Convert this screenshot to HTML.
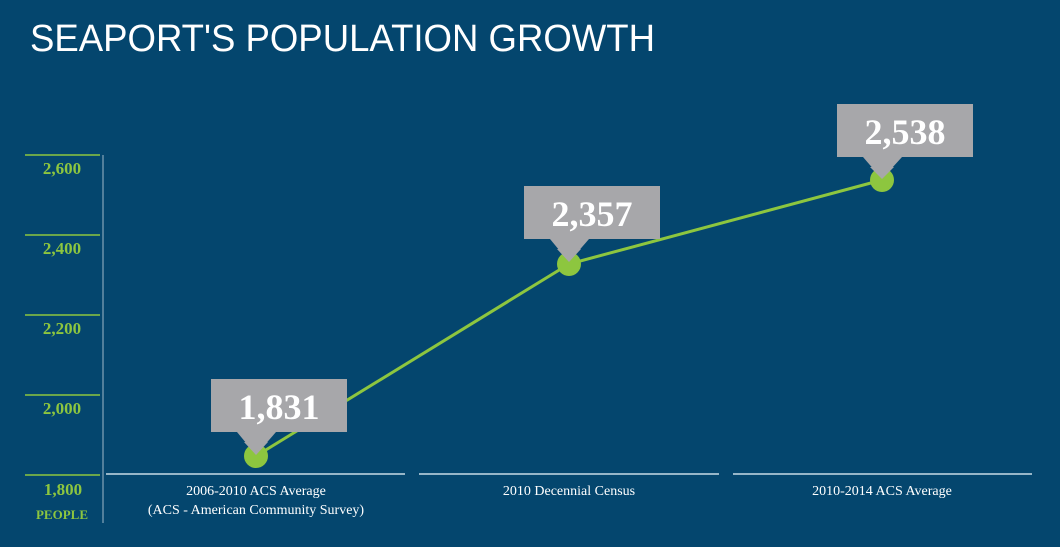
<!DOCTYPE html>
<html><head><meta charset="utf-8"><style>
html,body{margin:0;padding:0;background:#04466e;}
svg{display:block}
</style></head><body>
<svg width="1060" height="547" viewBox="0 0 1060 547" xmlns="http://www.w3.org/2000/svg">
<rect width="1060" height="547" fill="#04466e"/>
<text x="30" y="51" font-family="Liberation Sans, sans-serif" font-size="38" fill="#fff" textLength="625" lengthAdjust="spacingAndGlyphs">SEAPORT'S POPULATION GROWTH</text>
<g stroke="#8dc63f" stroke-width="1.5">
<line x1="25" y1="155" x2="100" y2="155"/>
<line x1="25" y1="235" x2="100" y2="235"/>
<line x1="25" y1="315" x2="100" y2="315"/>
<line x1="25" y1="395" x2="100" y2="395"/>
<line x1="25" y1="475" x2="100" y2="475"/>
</g>
<line x1="103" y1="155" x2="103" y2="523" stroke="#9fb8c8" stroke-width="1"/>
<g font-family="Liberation Serif, serif" font-weight="bold" font-size="17" fill="#8dc63f" text-anchor="middle">
<text x="62" y="174">2,600</text>
<text x="62" y="254">2,400</text>
<text x="62" y="334">2,200</text>
<text x="62" y="414">2,000</text>
<text x="63" y="495">1,800</text>
<text x="62" y="519" font-size="13">PEOPLE</text>
</g>
<g stroke="#c8dbe6" stroke-width="1.5">
<line x1="106" y1="474" x2="405" y2="474"/>
<line x1="419" y1="474" x2="719" y2="474"/>
<line x1="733" y1="474" x2="1032" y2="474"/>
</g>
<g font-family="Liberation Serif, serif" font-size="14" fill="#fff" text-anchor="middle">
<text x="256" y="495">2006-2010 ACS Average</text>
<text x="256" y="514">(ACS - American Community Survey)</text>
<text x="569" y="495">2010 Decennial Census</text>
<text x="882" y="495">2010-2014 ACS Average</text>
</g>
<polyline points="256,456 569,264 882,180" fill="none" stroke="#8dc63f" stroke-width="3"/>
<g fill="#a7a7aa">
<rect x="211" y="379" width="136" height="53"/>
<polygon points="237,432 276,432 256,455"/>
<rect x="524" y="186" width="136" height="53"/>
<polygon points="550,239 589,239 569,262"/>
<rect x="837" y="104" width="136" height="53"/>
<polygon points="863,157 902,157 882,179"/>
</g>
<g fill="#8dc63f">
<circle cx="256" cy="456" r="12"/>
<circle cx="569" cy="264" r="12"/>
<circle cx="882" cy="180" r="12"/>
</g>
<g fill="#a7a7aa">
<polygon points="244,442 268,442 256,455"/>
<polygon points="557,249 581,249 569,262"/>
<polygon points="870,167 894,167 882,179"/>
</g>
<g font-family="Liberation Serif, serif" font-weight="bold" font-size="36" fill="#fff" text-anchor="middle">
<text x="279" y="419">1,831</text>
<text x="592" y="226">2,357</text>
<text x="905" y="144">2,538</text>
</g>
</svg>
</body></html>
